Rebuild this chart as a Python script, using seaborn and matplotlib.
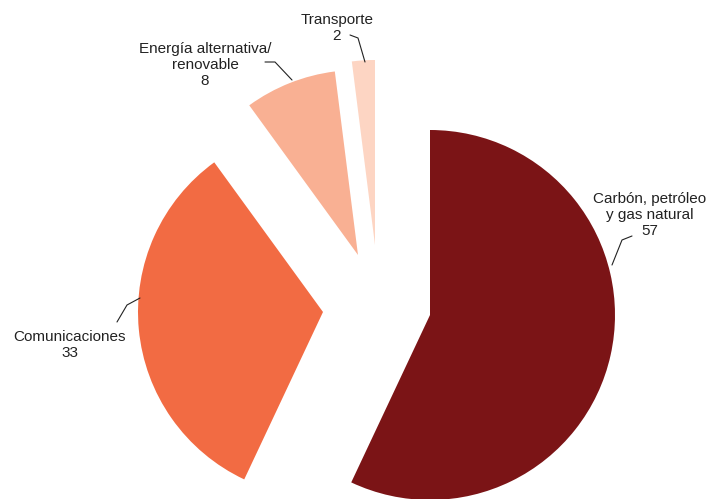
import matplotlib
matplotlib.use("Agg")
import matplotlib.pyplot as plt
import seaborn as sns

sns.set_theme(style="white")
plt.rcParams["font.family"] = ["Liberation Sans", "DejaVu Sans"]

categories = ["Carbón, petróleo\ny gas natural", "Comunicaciones", "Energía alternativa/\nrenovable", "Transporte"]
values = [57, 33, 8, 2]
colors = ["#7B1416", "#F26B43", "#F9B093", "#FDD5C3"]


def px(x, y):
    return ((x - 430) / 185, (315 - y) / 185)


# where each slice's apex sits in the reference
apex = [px(430, 315), px(323, 312), px(358, 255), px(375, 245)]

fig = plt.figure(figsize=(7.1, 4.99), dpi=100)
ax = fig.add_axes([0, 0, 1, 1])
wedges, _ = ax.pie(values, colors=colors, startangle=90, counterclock=False,
                   wedgeprops=dict(linewidth=0))
for w, c in zip(wedges, apex):
    w.set_center(c)
ax.set_xlim(-430 / 185, 280 / 185)
ax.set_ylim(-184 / 185, 315 / 185)
ax.set_aspect("equal")
ax.axis("off")

labels = [
    (px(650, 215), [px(612, 265), px(622, 240), px(632, 236)]),
    (px(70, 345), [px(117, 322), px(127, 305), px(140, 298)]),
    (px(205, 65), [px(265, 62), px(275, 62), px(292, 80)]),
    (px(337, 28), [px(350, 35), px(358, 38), px(365, 62)]),
]
for (cat, val), (pos, line) in zip(zip(categories, values), labels):
    ax.text(pos[0], pos[1], f"{cat}\n{val}", ha="center", va="center",
            fontsize=11, color="#222222", linespacing=1.15)
    ax.plot([p[0] for p in line], [p[1] for p in line], color="#222222", lw=0.8)

fig.savefig("out.png", dpi=100)
